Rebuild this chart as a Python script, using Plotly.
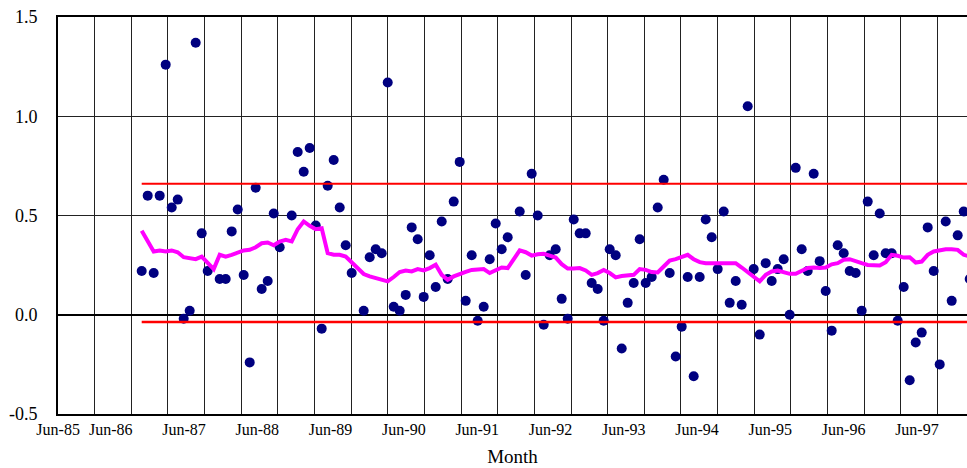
import pandas as pd
import plotly.graph_objects as go

# Monthly observations (categories), first one Nov-86
months = pd.date_range("1986-11-01", periods=139, freq="MS").strftime("%b-%y").tolist()

# Monthly values (navy dots); None = no dot visible
values = [
    0.22, 0.60, 0.21, 0.60, 1.26, 0.54, 0.58, -0.02, 0.02, 1.37,
    0.41, 0.22, None, 0.18, 0.18, 0.42, 0.53, 0.20, -0.24, 0.64,
    0.13, 0.17, 0.51, 0.34, None, 0.50, 0.82, 0.72, 0.84, 0.45,
    -0.07, 0.65, 0.78, 0.54, 0.35, 0.21, None, 0.02, 0.29, 0.33,
    0.31, 1.17, 0.04, 0.02, 0.10, 0.44, 0.38, 0.09, 0.30, 0.14,
    0.47, 0.18, 0.57, 0.77, 0.07, 0.30, -0.03, 0.04, 0.28, 0.46,
    0.33, 0.39, None, 0.52, 0.20, 0.71, 0.50, -0.05, 0.30, 0.33,
    0.08, -0.02, 0.48, 0.41, 0.41, 0.16, 0.13, -0.03, 0.33, 0.30,
    -0.17, 0.06, 0.16, 0.38, 0.16, 0.19, 0.54, 0.68, 0.21, -0.21,
    -0.06, 0.19, -0.31, 0.19, 0.48, 0.39, 0.23, 0.52, 0.06, 0.17,
    0.05, 1.05, 0.23, -0.10, 0.26, 0.17, 0.23, 0.28, 0.00, 0.74,
    0.33, 0.22, 0.71, 0.27, 0.12, -0.08, 0.35, 0.31, 0.22, 0.21,
    0.02, 0.57, 0.30, 0.51, 0.31, 0.31, -0.03, 0.14, -0.33, -0.14,
    -0.09, 0.44, 0.22, -0.25, 0.47, 0.07, 0.40, 0.52, 0.18,
]

# Moving average (magenta line)
moving_avg = [
    0.423, 0.369, 0.319, 0.324, 0.319, 0.324, 0.315, 0.290, 0.283, 0.280,
    0.293, 0.260, 0.230, 0.302, 0.293, 0.302, 0.315, 0.324, 0.327, 0.340,
    0.360, 0.364, 0.350, 0.369, 0.377, 0.369, 0.431, 0.470, 0.448, 0.431,
    0.436, 0.310, 0.302, 0.302, 0.293, 0.263, 0.230, 0.205, 0.193, 0.184,
    0.176, 0.168, 0.190, 0.215, 0.223, 0.218, 0.230, 0.223, 0.235, 0.252,
    0.201, 0.176, 0.193, 0.206, 0.216, 0.226, 0.230, 0.230, 0.210, 0.226,
    0.238, 0.235, 0.277, 0.324, 0.315, 0.298, 0.305, 0.307, 0.298, 0.288,
    0.255, 0.233, 0.233, 0.235, 0.223, 0.201, 0.210, 0.226, 0.210, 0.188,
    0.195, 0.198, 0.201, 0.230, 0.226, 0.215, 0.213, 0.243, 0.273, 0.280,
    0.290, 0.302, 0.280, 0.265, 0.260, 0.260, 0.263, 0.263, 0.263, 0.260,
    0.238, 0.215, 0.193, 0.168, 0.201, 0.218, 0.223, 0.213, 0.206, 0.206,
    0.223, 0.236, 0.238, 0.235, 0.238, 0.254, 0.260, 0.277, 0.280, 0.268,
    0.260, 0.251, 0.248, 0.248, 0.265, 0.302, 0.297, 0.288, 0.290, 0.263,
    0.268, 0.302, 0.319, 0.327, 0.330, 0.330, 0.327, 0.302, 0.293,
]

# Control limits (red lines)
upper_limit = 0.66
lower_limit = -0.036

# Axis labels
year_labels = ["Jun-85", "Jun-86", "Jun-87", "Jun-88", "Jun-89", "Jun-90", "Jun-91",
               "Jun-92", "Jun-93", "Jun-94", "Jun-95", "Jun-96", "Jun-97"]
y_ticks = [-0.5, 0.0, 0.5, 1.0, 1.5]
y_labels = ["-0.5", "0.0", "0.5", "1.0", "1.5"]

font_family = "Liberation Serif, Times New Roman, serif"

# label axis runs in months since Jun-85
lab_range = [3.37, 152.2]
lab_vals = [max(12 * k, lab_range[0] + 0.02) for k in range(len(year_labels))]

fig = go.Figure()

fig.add_trace(go.Scatter(x=months, y=values, mode="markers",
                         marker=dict(color="#000080", size=10, line=dict(width=0)),
                         showlegend=False))
fig.add_trace(go.Scatter(x=months, y=[upper_limit] * len(months), mode="lines",
                         line=dict(color="#ff0000", width=2), showlegend=False))
fig.add_trace(go.Scatter(x=months, y=[lower_limit] * len(months), mode="lines",
                         line=dict(color="#ff0000", width=2.5), showlegend=False))
fig.add_trace(go.Scatter(x=months, y=moving_avg, mode="lines",
                         line=dict(color="#ff00ff", width=4), showlegend=False))
# empty trace so the label axis gets drawn
fig.add_trace(go.Scatter(x=[], y=[], xaxis="x2", showlegend=False))

fig.update_layout(
    width=967, height=468,
    margin=dict(l=58, r=0, t=17, b=54),
    paper_bgcolor="white", plot_bgcolor="white",
    font=dict(family=font_family, size=16, color="black"),
    xaxis=dict(type="category", range=[-13.95, 137.55], showticklabels=False,
               showgrid=False, zeroline=False, ticks="",
               showline=True, linecolor="black", linewidth=2, mirror=True),
    xaxis2=dict(overlaying="x", anchor="y", side="bottom", range=lab_range,
                tickmode="array", tickvals=lab_vals, ticktext=year_labels,
                ticks="", showgrid=False, zeroline=False, showline=False,
                ticklabelstandoff=4,
                tickfont=dict(family=font_family, size=16, color="black"),
                minor=dict(tick0=lab_range[0], dtick=6, showgrid=True,
                           gridcolor="#222222", gridwidth=1, ticks=""),
                title=dict(text="Month", standoff=12,
                           font=dict(family=font_family, size=19, color="black"))),
    yaxis=dict(range=[-0.5, 1.5], tickmode="array", tickvals=y_ticks, ticktext=y_labels,
               ticks="", showgrid=True, gridcolor="#222222", gridwidth=1,
               zeroline=True, zerolinecolor="black", zerolinewidth=2,
               showline=True, linecolor="black", linewidth=2,
               ticklabelstandoff=15,
               tickfont=dict(family=font_family, size=18, color="black")),
)

# drop the page's default body margin so the chart sits at the window's corner
fig.write_html("out.html", config={"displayModeBar": False},
               post_script="document.body.style.margin='0';")
